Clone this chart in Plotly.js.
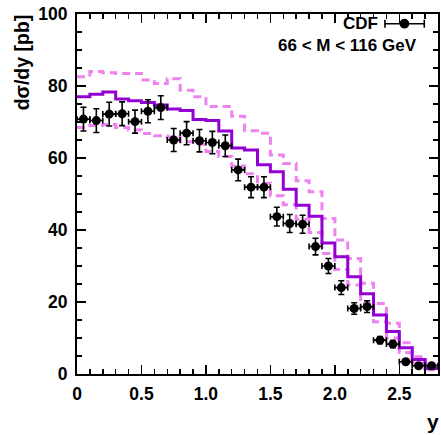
<!DOCTYPE html>
<html>
<head>
<meta charset="utf-8">
<script src="https://cdn.plot.ly/plotly-3.0.1.min.js"></script>
<style>
  html, body { margin: 0; padding: 0; background: #fff; }
  #chart { width: 441px; height: 435px; }
</style>
</head>
<body>
<div id="chart"></div>
<script>
// ---- data ----
var binEdges = [0.0,0.1,0.2,0.3,0.4,0.5,0.6,0.7,0.8,0.9,1.0,1.1,1.2,1.3,1.4,1.5,1.6,1.7,1.8,1.9,2.0,2.1,2.2,2.3,2.4,2.5,2.6,2.7,2.8];
var theoryCentral = [77.0,77.7,78.3,76.4,75.9,75.4,74.7,73.6,73.2,70.7,70.4,67.5,62.8,62.2,58.1,56.2,51.3,46.9,43.8,36.4,32.6,27.0,22.3,16.4,11.8,7.3,4.0,1.5];
var theoryUpper   = [82.6,84.0,83.7,83.5,83.5,81.7,80.7,82.0,78.8,77.0,74.3,74.3,71.6,67.6,66.9,60.8,58.5,53.7,50.6,43.2,37.2,32.1,25.2,19.6,14.1,8.7,4.8,2.5];
var theoryLower   = [68.5,69.0,69.3,68.5,67.8,66.8,66.2,65.8,64.5,63.8,61.8,60.4,57.8,55.6,53.0,49.5,47.0,43.0,39.3,33.5,29.0,24.7,19.5,14.5,10.0,6.0,3.0,1.2];

var cdfY    = [0.05,0.15,0.25,0.35,0.45,0.55,0.65,0.75,0.85,0.95,1.05,1.15,1.25,1.35,1.45,1.55,1.65,1.75,1.85,1.95,2.05,2.15,2.25,2.35,2.45,2.55,2.65,2.75];
var cdfXsec = [70.8,70.4,72.2,72.3,70.1,73.0,74.0,65.0,66.9,64.8,64.3,63.4,56.7,51.9,51.9,43.7,41.8,41.6,35.4,30.0,24.0,18.2,18.7,9.4,8.3,3.4,2.3,2.3];
var cdfErr  = [3.3,3.3,3.3,3.3,3.2,3.2,3.3,3.2,3.2,3.1,3.1,3.0,3.0,2.9,2.9,2.6,2.5,2.5,2.3,2.1,1.9,1.6,1.6,1.0,1.0,0.6,0.5,0.5];
var binHalfWidth = 0.05;

var xTickVals = [0,0.5,1.0,1.5,2.0,2.5];
var xTickText = ['0','0.5','1.0','1.5','2.0','2.5'];
var yTickVals = [0,20,40,60,80,100];

function stepY(v){ return v.concat([v[v.length-1]]); }

var FONT = 'Liberation Sans, Arial, Helvetica, sans-serif';

var traces = [
  { x: binEdges, y: stepY(theoryUpper), mode: 'lines', line: {shape: 'hv', color: '#ee82ee', width: 3, dash: '8px,5px'}, hoverinfo: 'skip', showlegend: false },
  { x: binEdges, y: stepY(theoryLower), mode: 'lines', line: {shape: 'hv', color: '#ee82ee', width: 3, dash: '8px,5px'}, hoverinfo: 'skip', showlegend: false },
  { x: binEdges, y: stepY(theoryCentral), mode: 'lines', line: {shape: 'hv', color: '#9400d3', width: 3}, hoverinfo: 'skip', showlegend: false },
  { x: cdfY, y: cdfXsec, mode: 'markers', marker: {color: '#000', size: 9, symbol: 'circle'},
    error_y: {type: 'data', array: cdfErr, visible: true, color: '#000', thickness: 1.6, width: 3},
    error_x: {type: 'constant', value: binHalfWidth, visible: true, color: '#000', thickness: 1.6, width: 3},
    showlegend: false, cliponaxis: false }
];

// paper coordinates of legend glyph
var lgX0 = 0.853, lgX1 = 0.962, lgXm = 0.907, lgY = 0.973, capH = 0.011;

var layout = {
  width: 441, height: 435,
  margin: {l: 77, r: 3, t: 14, b: 61},
  paper_bgcolor: '#fff', plot_bgcolor: '#fff',
  showlegend: false,
  font: {family: FONT, color: '#000', size: 17, weight: 'bold'},
  xaxis: {
    range: [0, 2.8], showgrid: false, zeroline: false,
    showline: true, linecolor: '#000', linewidth: 2, mirror: 'allticks',
    ticks: 'inside', ticklen: 9, tickwidth: 1.5, tickcolor: '#000',
    tickvals: xTickVals, ticktext: xTickText,
    tickfont: {family: FONT, size: 17.5, weight: 'bold', color: '#000'},
    ticklabelstandoff: 3,
    minor: {dtick: 0.1, ticks: 'inside', ticklen: 5, tickwidth: 1.5, tickcolor: '#000', showgrid: false}
  },
  yaxis: {
    range: [0, 100], showgrid: false, zeroline: false,
    showline: true, linecolor: '#000', linewidth: 2, mirror: 'allticks',
    ticks: 'inside', ticklen: 9, tickwidth: 1.5, tickcolor: '#000',
    tickvals: yTickVals,
    tickfont: {family: FONT, size: 17.5, weight: 'bold', color: '#000'},
    ticklabelstandoff: 4,
    minor: {dtick: 5, ticks: 'inside', ticklen: 5, tickwidth: 1.5, tickcolor: '#000', showgrid: false}
  },
  annotations: [
    {text: 'dσ/dy [pb]', textangle: -90, xref: 'paper', yref: 'paper', x: -0.152, y: 1.005,
     xanchor: 'center', yanchor: 'top', showarrow: false, font: {family: FONT, size: 19.5, weight: 'bold'}},
    {text: 'y', xref: 'paper', yref: 'paper', x: 1.008, y: -0.131, xanchor: 'right', yanchor: 'middle',
     showarrow: false, font: {family: FONT, size: 21, weight: 'bold'}},
    {text: 'CDF', xref: 'paper', yref: 'paper', x: 0.838, y: lgY, xanchor: 'right', yanchor: 'middle',
     showarrow: false, font: {family: FONT, size: 17, weight: 'bold'}},
    {text: '66 < M < 116 GeV', xref: 'paper', yref: 'paper', x: 0.948, y: 0.913, xanchor: 'right', yanchor: 'middle',
     showarrow: false, font: {family: FONT, size: 17, weight: 'bold'}}
  ],
  shapes: [
    {type: 'line', xref: 'paper', yref: 'paper', x0: lgX0, x1: lgX1, y0: lgY, y1: lgY, line: {color: '#000', width: 1.6}},
    {type: 'line', xref: 'paper', yref: 'paper', x0: lgX0, x1: lgX0, y0: lgY - capH, y1: lgY + capH, line: {color: '#000', width: 1.6}},
    {type: 'line', xref: 'paper', yref: 'paper', x0: lgX1, x1: lgX1, y0: lgY - capH, y1: lgY + capH, line: {color: '#000', width: 1.6}},
    {type: 'circle', xref: 'paper', yref: 'paper', x0: lgXm - 0.0135, x1: lgXm + 0.0135, y0: lgY - 0.0135, y1: lgY + 0.0135,
     fillcolor: '#000', line: {color: '#000', width: 0}}
  ]
};

Plotly.newPlot('chart', traces, layout, {staticPlot: true, displayModeBar: false});
</script>
</body>
</html>
